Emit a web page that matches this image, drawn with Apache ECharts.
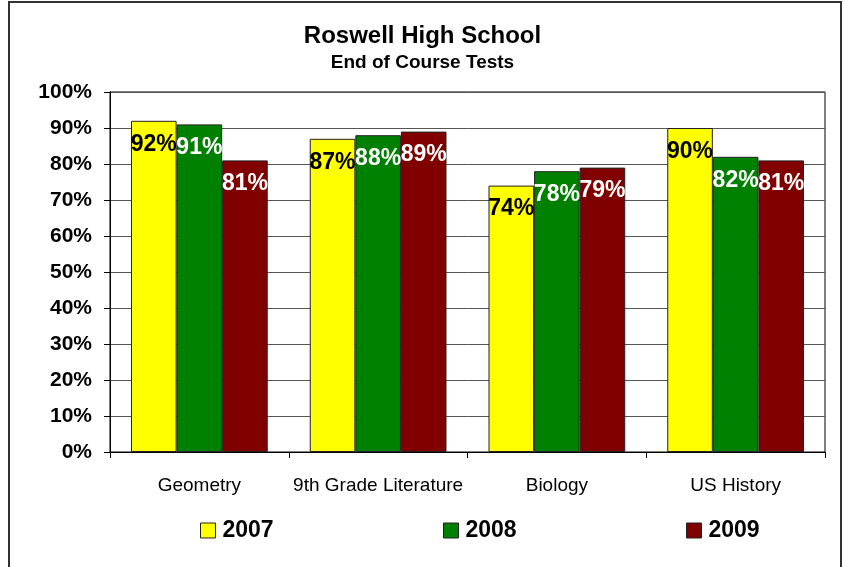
<!DOCTYPE html>
<html>
<head>
<meta charset="utf-8">
<script src="https://cdn.jsdelivr.net/npm/echarts@6/dist/echarts.min.js"></script>
<style>
html,body{margin:0;padding:0;background:#fff;}
#chart{width:845px;height:567px;}
</style>
</head>
<body>
<div id="chart"></div>
<script>
const categories = ['Geometry', '9th Grade Literature', 'Biology', 'US History'];
const s2007 = [92, 87, 74, 90];
const s2008 = [91, 88, 78, 82];
const s2009 = [81, 89, 79, 81];
const seriesNames = ['2007', '2008', '2009'];
const yTicks = [0, 10, 20, 30, 40, 50, 60, 70, 80, 90, 100];

const chart = echarts.init(document.getElementById('chart'));
const font = 'Arial, "Liberation Sans", sans-serif';
const colors = ['#FFFF00', '#008000', '#800000'];
const labelColors = ['#000', '#fff', '#fff'];
const datasets = [s2007, s2008, s2009];

function mkSeries(i) {
  return {
    name: seriesNames[i],
    type: 'bar',
    data: datasets[i],
    barGap: '0%',
    barCategoryGap: '23.5%',
    itemStyle: { color: colors[i], borderColor: '#222', borderWidth: 1 },
    label: {
      show: true,
      position: 'insideTop',
      distance: 12,
      formatter: '{c}%',
      color: labelColors[i],
      fontFamily: font,
      fontWeight: 'bold',
      fontSize: 23
    }
  };
}

const legendLefts = [200, 443, 686];

chart.setOption({
  animation: false,
  backgroundColor: '#fff',
  title: {
    text: 'Roswell High School',
    subtext: 'End of Course Tests',
    left: 'center',
    top: 19,
    itemGap: 5,
    textStyle: { fontFamily: font, fontWeight: 'bold', fontSize: 24, color: '#000' },
    subtextStyle: { fontFamily: font, fontWeight: 'bold', fontSize: 19, color: '#000' }
  },
  legend: seriesNames.map((n, i) => ({
    data: [n],
    left: legendLefts[i],
    top: 519,
    padding: 0,
    itemWidth: 15,
    itemHeight: 15,
    icon: 'rect',
    itemStyle: { borderColor: '#222', borderWidth: 1 },
    textStyle: { fontFamily: font, fontWeight: 'bold', fontSize: 23, color: '#000', padding: [0, 0, 0, 2] },
    selectedMode: false
  })),
  grid: {
    left: 110, right: 20, top: 92, bottom: 115,
    show: true, borderColor: '#000', borderWidth: 1, backgroundColor: '#fff'
  },
  xAxis: {
    type: 'category',
    data: categories,
    axisLine: { lineStyle: { color: '#000', width: 1 } },
    axisTick: { show: true, length: 6, lineStyle: { color: '#000' } },
    axisLabel: { interval: 0, hideOverlap: false, fontFamily: font, fontSize: 19, color: '#000', margin: 24 }
  },
  yAxis: {
    type: 'value',
    min: 0,
    max: 100,
    interval: 10,
    axisLine: { show: true, lineStyle: { color: '#000', width: 1 } },
    axisTick: { show: true, length: 6, lineStyle: { color: '#000' } },
    splitLine: { lineStyle: { color: '#555', width: 1 } },
    axisLabel: {
      fontFamily: font, fontWeight: 'bold', fontSize: 21, color: '#000', margin: 18,
      formatter: v => yTicks.includes(v) ? v + '%' : ''
    }
  },
  graphic: [{
    type: 'rect',
    shape: { x: 9, y: 2, width: 832, height: 620 },
    style: { fill: null, stroke: '#333', lineWidth: 2 },
    silent: true,
    z: 100
  }],
  series: [mkSeries(0), mkSeries(1), mkSeries(2)]
});
</script>
</body>
</html>
